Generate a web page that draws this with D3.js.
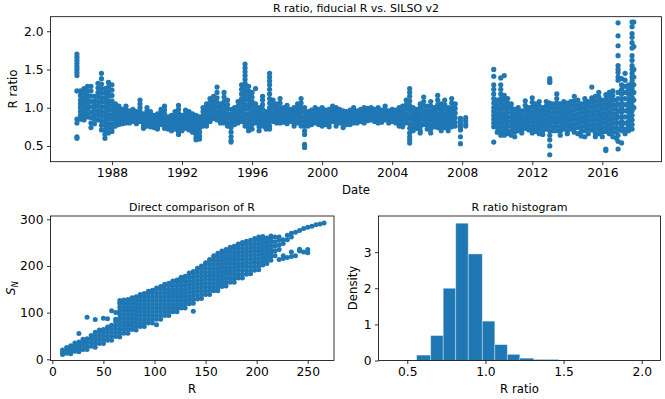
<!DOCTYPE html>
<html lang="en">
<head>
<meta charset="utf-8">
<title>R ratio, fiducial R vs. SILSO v2</title>
<script src="https://d3js.org/d3.v7.min.js"></script>
<style>
  body { margin: 0; background: #fff; }
  text { font-family: "DejaVu Sans", sans-serif; fill: #000; }
  .frame { fill: none; stroke: #000; stroke-width: 0.8; }
  .tick line { stroke: #000; stroke-width: 0.8; }
</style>
</head>
<body>
<script>
// ---- data ----

// top panel: R ratio samples, one column of values per date (decimal year)
var ratioYears = [
  1986.0,1986.2,1986.4,1986.6,1986.8,1987.0,1987.2,1987.4,1987.6,1987.8,
  1988.0,1988.2,1988.4,1988.6,1988.8,1989.0,1989.2,1989.4,1989.6,1989.8,
  1990.0,1990.2,1990.4,1990.6,1990.8,1991.0,1991.2,1991.4,1991.6,1991.8,
  1992.0,1992.2,1992.4,1992.6,1992.8,1993.0,1993.2,1993.4,1993.6,1993.8,
  1994.0,1994.2,1994.4,1994.6,1994.8,1995.0,1995.2,1995.4,1995.6,1995.8,
  1996.0,1996.2,1996.4,1996.6,1996.8,1997.0,1997.2,1997.4,1997.6,1997.8,
  1998.0,1998.2,1998.4,1998.6,1998.8,1999.0,1999.2,1999.4,1999.6,1999.8,
  2000.0,2000.2,2000.4,2000.6,2000.8,2001.0,2001.2,2001.4,2001.6,2001.8,
  2002.0,2002.2,2002.4,2002.6,2002.8,2003.0,2003.2,2003.4,2003.6,2003.8,
  2004.0,2004.2,2004.4,2004.6,2004.8,2005.0,2005.2,2005.4,2005.6,2005.8,
  2006.0,2006.2,2006.4,2006.6,2006.8,2007.0,2007.2,2007.4,2007.6,2007.9,
  2008.2,
  2009.8,2010.0,2010.2,2010.4,2010.6,2010.8,2011.0,2011.2,2011.4,2011.6,
  2011.8,2012.0,2012.2,2012.4,2012.6,2012.8,2013.0,2013.2,2013.4,2013.6,
  2013.8,2014.0,2014.2,2014.4,2014.6,2014.8,2015.0,2015.2,2015.4,2015.6,
  2015.8,2016.0,2016.2,2016.4,2016.6,2016.8,2016.9,2017.1,2017.3,2017.5,
  2017.7,2017.8
];
var ratioValues = [
  [1.70,1.66,1.62,1.58,1.54,1.50,1.46,1.42,1.22,0.85,0.80,0.62,0.60],
  [1.22,1.16,1.10,1.05,1.00,0.95,0.90,0.85],
  [1.25,1.19,1.13,1.07,1.01,0.95,0.89,0.84],
  [1.28,1.22,1.16,1.10,1.04,0.98,0.92,0.88],
  [1.28,1.22,1.15,1.08,1.01,0.94,0.87,0.80,0.74],
  [1.15,1.09,1.03,0.97,0.91,0.85,0.79],
  [1.32,1.26,1.20,1.14,1.08,1.02,0.96,0.90,0.84],
  [1.45,1.38,1.31,1.25,1.19,1.13,1.07,1.01,0.95,0.89,0.83,0.77,0.71],
  [1.25,1.19,1.13,1.07,1.01,0.95,0.89,0.83,0.77,0.71,0.65,0.60],
  [1.33,1.27,1.21,1.15,1.09,1.03,0.97,0.91,0.85,0.79,0.73,0.67],
  [1.30,1.23,1.16,1.09,1.03,0.97,0.91,0.85,0.79,0.73,0.69],
  [1.05,1.00,0.95,0.90,0.85,0.80,0.76],
  [1.02,0.97,0.92,0.87,0.82,0.78],
  [0.98,0.94,0.90,0.86,0.82,0.79],
  [1.02,0.97,0.92,0.87,0.83,0.80],
  [0.96,0.92,0.88,0.84,0.80],
  [0.98,0.94,0.90,0.86,0.82],
  [0.95,0.91,0.87,0.83,0.79],
  [1.10,1.05,1.00,0.95,0.90,0.86,0.82],
  [0.92,0.88,0.84,0.80,0.76,0.73],
  [1.00,0.96,0.92,0.88,0.84,0.80,0.76],
  [0.95,0.91,0.87,0.83,0.79,0.75],
  [0.90,0.86,0.82,0.78,0.74],
  [0.92,0.88,0.84,0.80,0.76,0.72],
  [0.98,0.94,0.90,0.86,0.82,0.78],
  [1.02,0.97,0.92,0.87,0.82,0.77,0.73],
  [0.88,0.84,0.80,0.76,0.72],
  [0.90,0.86,0.82,0.78,0.74,0.70],
  [0.95,0.90,0.85,0.80,0.76,0.72],
  [1.03,0.98,0.93,0.88,0.83,0.78,0.73,0.68,0.65],
  [0.90,0.86,0.82,0.78,0.74,0.70],
  [0.97,0.92,0.87,0.82,0.77,0.73],
  [0.95,0.90,0.85,0.80,0.75,0.71],
  [0.92,0.87,0.82,0.77,0.72,0.68],
  [0.90,0.85,0.80,0.75,0.70,0.65,0.61,0.58],
  [0.88,0.83,0.78,0.73,0.68,0.63,0.59],
  [1.00,0.95,0.90,0.85,0.80,0.76],
  [1.05,1.00,0.95,0.90,0.85,0.80,0.76],
  [1.12,1.07,1.02,0.97,0.92,0.87,0.82],
  [1.15,1.09,1.03,0.97,0.91,0.86],
  [1.27,1.20,1.13,1.07,1.01,0.95,0.89,0.84],
  [1.05,1.00,0.95,0.90,0.85,0.80],
  [1.20,1.14,1.08,1.02,0.96,0.90,0.85,0.80],
  [1.10,1.04,0.98,0.92,0.86,0.80,0.76],
  [0.98,0.92,0.86,0.80,0.74,0.68,0.62,0.57,0.55],
  [1.00,0.94,0.88,0.83,0.78],
  [1.08,1.02,0.96,0.90,0.85,0.80],
  [1.30,1.24,1.18,1.12,1.06,1.00,0.94,0.88,0.82],
  [1.57,1.52,1.47,1.42,1.37,1.32,1.27,1.22,1.16,1.10,1.04,0.98,0.92,0.86,0.80,0.76],
  [1.28,1.22,1.16,1.10,1.04,0.98,0.92,0.86,0.80,0.74,0.70],
  [1.20,1.14,1.08,1.02,0.96,0.90,0.84,0.78,0.72],
  [1.25,1.05,1.00,0.95,0.90,0.85,0.80],
  [1.00,0.95,0.90,0.85,0.80,0.75,0.70],
  [1.15,1.10,1.04,0.98,0.92,0.86,0.80,0.76],
  [0.95,0.90,0.85,0.80,0.76,0.72],
  [1.45,1.40,1.35,1.30,1.24,1.18,1.12,1.06,1.00,0.94,0.88,0.82,0.76,0.72],
  [1.10,1.04,0.98,0.92,0.87,0.82],
  [1.05,1.00,0.95,0.90,0.85,0.80],
  [1.12,1.06,1.00,0.95,0.90,0.85,0.80],
  [1.00,0.95,0.90,0.85,0.81],
  [1.03,0.98,0.93,0.88,0.83,0.79],
  [0.98,0.94,0.90,0.86,0.82],
  [1.00,0.95,0.90,0.85,0.80,0.76],
  [1.05,1.00,0.95,0.90,0.85,0.80],
  [1.12,1.06,1.00,0.94,0.88,0.82,0.76],
  [1.00,0.94,0.88,0.82,0.76,0.70,0.65,0.52,0.48],
  [0.95,0.90,0.85,0.80,0.76],
  [0.97,0.92,0.87,0.82,0.78],
  [1.00,0.95,0.90,0.85,0.80],
  [0.98,0.93,0.88,0.83,0.78],
  [1.00,0.95,0.90,0.85,0.80,0.76],
  [0.97,0.92,0.87,0.82,0.78],
  [0.98,0.93,0.88,0.83,0.79,0.75],
  [1.02,0.97,0.92,0.87,0.82],
  [1.00,0.95,0.90,0.85,0.80,0.76],
  [0.98,0.93,0.88,0.84,0.80],
  [0.96,0.91,0.86,0.82,0.78,0.74],
  [0.95,0.90,0.86,0.82,0.78],
  [0.97,0.92,0.87,0.82,0.78],
  [1.00,0.95,0.90,0.85,0.80],
  [0.96,0.92,0.88,0.84,0.80],
  [0.98,0.94,0.90,0.86,0.82],
  [1.00,0.96,0.92,0.88,0.84,0.80],
  [0.99,0.95,0.91,0.87,0.83],
  [1.00,0.96,0.92,0.88,0.84],
  [0.98,0.94,0.90,0.86,0.82],
  [1.00,0.96,0.92,0.88,0.84,0.80],
  [0.97,0.93,0.89,0.85,0.81],
  [1.02,0.97,0.92,0.88,0.84],
  [0.96,0.92,0.88,0.84,0.80],
  [0.98,0.94,0.90,0.86,0.82],
  [0.97,0.93,0.89,0.85,0.80],
  [1.00,0.95,0.90,0.85,0.80,0.76],
  [1.02,0.96,0.90,0.85,0.80,0.75],
  [1.10,1.04,0.98,0.92,0.86,0.80],
  [1.25,1.20,1.15,1.09,1.03,0.97,0.91,0.85,0.79,0.73,0.67,0.62,0.58,0.54],
  [1.00,0.95,0.90,0.85,0.80,0.75,0.70],
  [0.98,0.93,0.88,0.83,0.78,0.73],
  [1.05,1.00,0.95,0.90,0.85,0.80,0.75,0.70,0.67],
  [1.14,1.08,1.02,0.96,0.90,0.84,0.78],
  [1.02,0.97,0.92,0.87,0.82,0.77,0.72],
  [1.08,1.02,0.96,0.90,0.84,0.78,0.72,0.67],
  [1.00,0.95,0.90,0.85,0.80,0.75],
  [1.16,1.10,1.04,0.98,0.92,0.86,0.80,0.74],
  [1.05,1.00,0.95,0.90,0.85,0.80,0.75,0.70],
  [1.10,1.04,0.98,0.92,0.86,0.80,0.74],
  [1.00,0.95,0.90,0.85,0.80,0.75,0.70],
  [1.12,1.06,1.00,0.95,0.90,0.85,0.80,0.75],
  [1.05,0.99,0.93,0.87,0.81,0.76],
  [0.86,0.82,0.78,0.74,0.71,0.62,0.53],
  [0.87,0.83,0.79,0.76],
  [1.50,1.41,1.30,1.24,1.18,1.12,1.06,1.00,0.95,0.90,0.85,0.80,0.75,0.55],
  [1.10,1.04,0.98,0.92,0.86,0.80,0.74,0.68],
  [1.39,1.30,1.24,1.18,1.12,1.06,1.00,0.94,0.88,0.82,0.76,0.70,0.64],
  [1.42,1.16,1.10,1.04,0.98,0.92,0.86,0.80,0.74,0.68,0.64],
  [1.12,1.06,1.00,0.94,0.88,0.82,0.76,0.70,0.66],
  [1.05,1.00,0.94,0.88,0.82,0.76,0.70,0.64],
  [0.98,0.92,0.86,0.80,0.74,0.68,0.62],
  [1.00,0.95,0.90,0.85,0.80,0.75,0.70],
  [0.96,0.91,0.86,0.81,0.76,0.71,0.67],
  [1.09,1.03,0.97,0.91,0.85,0.79,0.73],
  [1.00,0.94,0.88,0.82,0.76,0.71],
  [1.13,1.07,1.01,0.95,0.89,0.83,0.77,0.71,0.67],
  [1.05,0.99,0.93,0.87,0.81,0.75,0.69],
  [1.08,1.02,0.96,0.90,0.84,0.78,0.72,0.66],
  [1.00,0.94,0.88,0.82,0.76,0.70,0.65],
  [1.08,1.02,0.96,0.90,0.84,0.78,0.72],
  [1.38,1.35,1.33,1.06,1.00,0.94,0.88,0.82,0.76,0.70,0.64,0.58,0.50,0.385],
  [1.05,0.99,0.93,0.87,0.81,0.75,0.70],
  [1.18,1.12,1.06,1.00,0.94,0.88,0.82,0.76,0.70],
  [1.05,0.99,0.93,0.87,0.81,0.75,0.69,0.64],
  [1.08,1.02,0.96,0.90,0.84,0.78,0.72],
  [1.06,1.00,0.94,0.88,0.82,0.76,0.70,0.66],
  [1.08,1.02,0.96,0.90,0.84,0.78,0.72],
  [1.15,1.09,1.03,0.97,0.91,0.85,0.79,0.73,0.68],
  [1.10,1.04,0.98,0.92,0.86,0.80,0.74,0.66],
  [1.05,0.99,0.93,0.87,0.81,0.75,0.69,0.63],
  [1.12,1.06,1.00,0.94,0.88,0.82,0.76,0.70,0.62],
  [1.08,1.02,0.96,0.90,0.84,0.78,0.72,0.66],
  [1.27,1.13,1.07,1.01,0.95,0.89,0.83,0.77,0.71],
  [1.15,1.09,1.03,0.97,0.91,0.85,0.79,0.73,0.67,0.62],
  [1.20,1.14,1.08,1.02,0.96,0.90,0.84,0.78,0.72,0.66],
  [1.10,1.04,0.98,0.92,0.86,0.80,0.74,0.68,0.62],
  [1.17,1.11,1.05,0.99,0.93,0.87,0.81,0.75,0.69,0.46,0.44],
  [1.20,1.14,1.08,1.02,0.96,0.90,0.84,0.78,0.72,0.66],
  [1.22,1.16,1.10,1.04,0.98,0.92,0.86,0.80,0.74,0.68,0.62],
  [1.10,1.04,0.98,0.92,0.86,0.80,0.74,0.68,0.60],
  [2.11,1.94,1.81,1.68,1.55,1.50,1.46,1.40,1.36,1.20,1.12,1.04,0.96,0.88,0.80,0.72,0.64,0.56,0.46],
  [1.38,1.30,1.24,1.18,1.12,1.06,1.00,0.94,0.88,0.82,0.76,0.70,0.54],
  [1.45,1.36,1.28,1.20,1.12,1.04,0.96,0.88,0.80,0.72,0.66],
  [1.30,1.24,1.18,1.12,1.06,1.00,0.94,0.88,0.82,0.76,0.70],
  [2.12,2.06,1.97,1.92,1.85,1.78,1.68,1.62,1.55,1.50,1.45,1.40,1.35,1.30,1.25,1.20,1.14,1.08,1.02,0.96,0.90,0.84,0.78,0.72],
  [2.12,1.80,1.50,1.40,1.30,1.20,1.10,1.00]
];
var yearTicks = [1988, 1992, 1996, 2000, 2004, 2008, 2012, 2016];
var ratioTicks = [0.5, 1.0, 1.5, 2.0];

// bottom left: S_N values for each R column
var compR = [10,14,18,22,26,30,34,38,42,46,50,54,58,62,66,70,74,78,82,86,90,94,98,102,106,110,114,118,122,126,130,134,138,142,146,150,154,158,162,166,170,174,178,182,186,190,194,198,202,206,210,214,218,222,226,230,234,238,242,246,250,254,258,262,266];
var compSN = [
  [10,15,20],
  [13,19,25],
  [12,18,24,29],
  [17,23,29,35],
  [16,23,30,37,55],
  [21,29,37,43],
  [21,28,36,44,90],
  [28,36,44,51],
  [26,34,42,50,58,85],
  [34,42,50,58,63],
  [34,42,50,58,64,88],
  [41,49,57,65,69,87],
  [41,49,57,65,73,104],
  [49,57,65,73,81,86,100],
  [48,56,64,72,80,88,96,104,112,120,126],
  [56,64,72,80,88,96,104,112,120,127],
  [56,64,72,80,88,96,104,112,120,128],
  [64,72,80,88,96,104,112,120,128,132],
  [63,71,79,87,95,103,111,119,127,134],
  [70,78,86,94,102,110,118,126,134,139],
  [70,78,86,94,102,110,118,126,134,141],
  [78,86,94,102,110,118,126,134,142,146],
  [78,86,94,102,110,118,126,134,142,148],
  [74,86,94,102,110,118,126,134,142,150,153],
  [86,94,102,110,118,126,134,142,150,156],
  [94,102,110,118,126,134,142,150,158,161],
  [94,102,110,118,126,134,142,150,158,163],
  [102,110,118,126,134,142,150,158,166,168],
  [102,110,118,126,134,142,150,158,166,170],
  [110,118,126,134,142,150,158,166,174,176],
  [110,118,126,134,142,150,158,166,174,178],
  [119,127,135,143,151,159,167,175,183,185],
  [103,120,128,136,144,152,160,168,176,184,188],
  [129,137,145,153,161,169,177,185,193,195],
  [130,138,146,154,162,170,178,186,194,200],
  [139,147,155,163,171,179,187,195,203,207],
  [139,147,155,163,171,179,187,195,203,211,214],
  [147,155,163,171,179,187,195,203,211,219,222],
  [147,155,163,171,179,187,195,203,211,219,227],
  [156,164,172,180,188,196,204,212,220,228,232],
  [157,165,173,181,189,197,205,213,221,229,235],
  [165,173,181,189,197,205,213,221,229,237,240],
  [165,173,181,189,197,205,213,221,229,237,242],
  [174,182,190,198,206,214,222,230,238,246,247],
  [174,182,190,198,206,214,222,230,238,246,250],
  [182,190,198,206,214,222,230,238,246,253],
  [183,191,199,207,215,223,231,239,247,255],
  [191,199,207,215,223,231,239,247,255,259],
  [192,200,208,216,224,232,240,248,256,262],
  [202,210,218,226,234,242,250,258,263],
  [205,213,221,229,237,245,253,260],
  [212,220,228,236,244,252,260,264],
  [222,232,242,252,262],
  [214,235,245,255,262],
  [216,222,248,256],
  [218,256,266],
  [220,230,262,270],
  [222,272],
  [232,236,276],
  [230,280],
  [228,235,283],
  [285],
  [288],
  [290],
  [292]
];
var compTicksX = [0, 50, 100, 150, 200, 250];
var compTicksY = [0, 100, 200, 300];

// bottom right: histogram of the R ratio (density)
var histEdges = [0.40,0.48,0.56,0.65,0.73,0.81,0.89,0.98,1.06,1.14,1.22,1.31,1.39,1.47,1.55,1.64,1.72,1.80,1.88,1.97,2.05];
var histDensity = [0.003,0.012,0.15,0.69,2.0,3.80,2.95,1.09,0.44,0.17,0.065,0.03,0.03,0.012,0.004,0.002,0.002,0.002,0.002,0.003];
var histTicksX = [0.5, 1.0, 1.5, 2.0];
var histTicksY = [0, 1, 2, 3];

// ---- drawing ----
var blue = "#1f77b4";
var svg = d3.select("body").append("svg")
  .attr("width", 665).attr("height", 399);

var tickFont = 12.3, labelFont = 11.7, titleFont = 11;

// frame + ticks for one axes box
function drawAxes(x, y, xt, yt, xfmt, yfmt) {
  var x0 = x.range()[0], x1 = x.range()[1];
  var y0 = y.range()[0], y1 = y.range()[1];
  var gx = svg.append("g")
    .attr("transform", "translate(0," + y0 + ")")
    .call(d3.axisBottom(x).tickValues(xt).tickFormat(xfmt).tickSize(3.5).tickPadding(3.5));
  var gy = svg.append("g")
    .attr("transform", "translate(" + x0 + ",0)")
    .call(d3.axisLeft(y).tickValues(yt).tickFormat(yfmt).tickSize(3.5).tickPadding(3.5));
  [gx, gy].forEach(function(g) {
    g.select(".domain").remove();
    g.attr("font-family", null).attr("font-size", null);
    g.selectAll("text").style("font-size", tickFont + "px").attr("fill", "#000");
  });
  svg.append("rect").attr("class", "frame")
    .attr("x", x0).attr("y", y1)
    .attr("width", x1 - x0).attr("height", y0 - y1);
}

function clipFor(id, x, y) {
  svg.append("clipPath").attr("id", id).append("rect")
    .attr("x", x.range()[0]).attr("y", y.range()[1])
    .attr("width", x.range()[1] - x.range()[0])
    .attr("height", y.range()[0] - y.range()[1]);
  return "url(#" + id + ")";
}

// top: time series
var xTop = d3.scaleLinear().domain([1984.49, 2019.38]).range([50.5, 661.5]);
var yTop = d3.scaleLinear().domain([0.294, 2.19]).range([161.7, 16.7]);

var ratioPts = [];
ratioYears.forEach(function(t, i) {
  ratioValues[i].forEach(function(v) { ratioPts.push([t, v]); });
});

svg.append("g").attr("clip-path", clipFor("clipTop", xTop, yTop))
  .selectAll("circle").data(ratioPts).enter().append("circle")
  .attr("cx", function(d) { return xTop(d[0]); })
  .attr("cy", function(d) { return yTop(d[1]); })
  .attr("r", 2.6).attr("fill", blue);

drawAxes(xTop, yTop, yearTicks, ratioTicks, d3.format("d"), d3.format(".1f"));

svg.append("text").attr("x", 356).attr("y", 11.5).attr("text-anchor", "middle")
  .style("font-size", titleFont + "px").text("R ratio, fiducial R vs. SILSO v2");
svg.append("text").attr("x", 356).attr("y", 194).attr("text-anchor", "middle")
  .style("font-size", labelFont + "px").text("Date");
svg.append("text").attr("transform", "translate(17,89) rotate(-90)").attr("text-anchor", "middle")
  .style("font-size", labelFont + "px").text("R ratio");

// bottom left: scatter S_N vs R
var xComp = d3.scaleLinear().domain([-1.8, 275.7]).range([50.5, 334]);
var yComp = d3.scaleLinear().domain([-2.6, 307]).range([360.5, 216]);

var compPts = [];
compR.forEach(function(r, i) {
  compSN[i].forEach(function(s) { compPts.push([r, s]); });
});

svg.append("g").attr("clip-path", clipFor("clipComp", xComp, yComp))
  .selectAll("circle").data(compPts).enter().append("circle")
  .attr("cx", function(d) { return xComp(d[0]); })
  .attr("cy", function(d) { return yComp(d[1]); })
  .attr("r", 2.5).attr("fill", blue);

drawAxes(xComp, yComp, compTicksX, compTicksY, d3.format("d"), d3.format("d"));

svg.append("text").attr("x", 192).attr("y", 211).attr("text-anchor", "middle")
  .style("font-size", titleFont + "px").text("Direct comparison of R");
svg.append("text").attr("x", 192).attr("y", 393).attr("text-anchor", "middle")
  .style("font-size", labelFont + "px").text("R");
var snLabel = svg.append("text").attr("transform", "translate(15,288) rotate(-90)")
  .attr("text-anchor", "middle").style("font-size", labelFont + "px");
snLabel.append("tspan").style("font-style", "italic").text("S");
snLabel.append("tspan").style("font-style", "italic").style("font-size", "8.5px")
  .attr("dy", 2.5).text("N");

// bottom right: histogram
var xHist = d3.scaleLinear().domain([0.316, 2.12]).range([378.5, 660.5]);
var yHist = d3.scaleLinear().domain([0, 4.0]).range([360.5, 216]);

svg.append("g").selectAll("rect").data(histDensity).enter().append("rect")
  .attr("x", function(d, i) { return xHist(histEdges[i]); })
  .attr("width", function(d, i) { return xHist(histEdges[i + 1]) - xHist(histEdges[i]); })
  .attr("y", function(d) { return yHist(d); })
  .attr("height", function(d) { return yHist(0) - yHist(d); })
  .attr("fill", blue)
  .attr("stroke", "rgba(255,255,255,0.45)").attr("stroke-width", 0.8);

drawAxes(xHist, yHist, histTicksX, histTicksY, d3.format(".1f"), d3.format("d"));

svg.append("text").attr("x", 519.5).attr("y", 211).attr("text-anchor", "middle")
  .style("font-size", titleFont + "px").text("R ratio histogram");
svg.append("text").attr("x", 519.5).attr("y", 393).attr("text-anchor", "middle")
  .style("font-size", labelFont + "px").text("R ratio");
svg.append("text").attr("transform", "translate(357,288) rotate(-90)").attr("text-anchor", "middle")
  .style("font-size", labelFont + "px").text("Density");
</script>
</body>
</html>
